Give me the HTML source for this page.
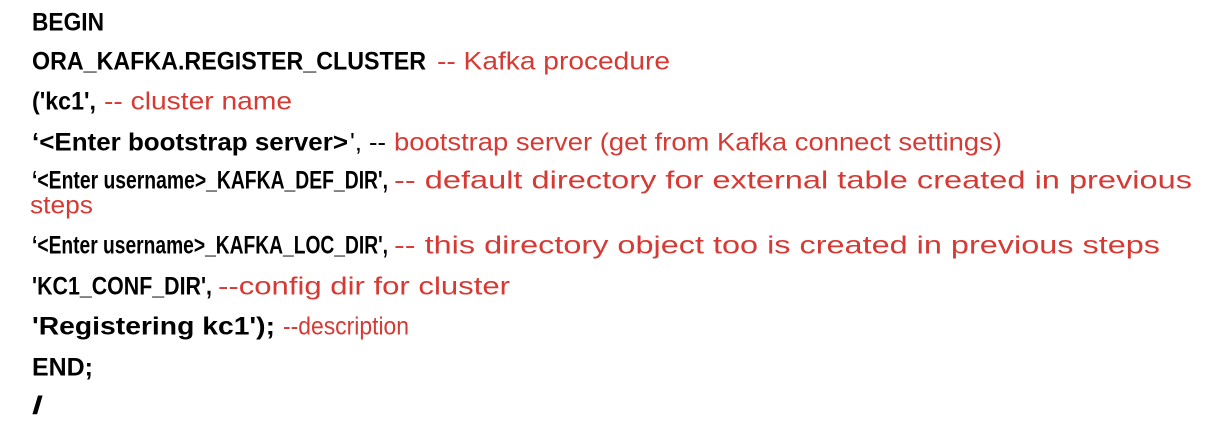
<!DOCTYPE html>
<html><head><meta charset="utf-8"><style>
html,body{margin:0;padding:0;background:#fff;width:1206px;height:444px;overflow:hidden;position:relative}
.s{position:absolute;white-space:pre;font-family:"Liberation Sans",sans-serif;font-size:23px;line-height:1;transform-origin:0 0}
.b{font-weight:bold;color:#000}
.k{color:#000}
.r{color:#d63a34}
</style></head><body>
<div id="c"></div>
<script>
var R=[
["BEGIN",32,31,72,1],
["ORA_KAFKA.REGISTER_CLUSTER",32,70,394,1],
["-- Kafka procedure",437,70,233,0],
["('kc1',",32,110,64,1],
["-- cluster name",104,110,188,0],
["‘<Enter bootstrap server>",32,151,316,1],
["', --",350,151,36,2],
["bootstrap server (get from Kafka connect settings)",394,151,608,0],
["‘<Enter username>_KAFKA_DEF_DIR',",32,189,356,1],
["-- default directory for external table created in previous",394,189,798,0],
["steps",30,214,63,0],
["‘<Enter username>_KAFKA_LOC_DIR',",32,254,356,1],
["-- this directory object too is created in previous steps",394,254,766,0],
["'KC1_CONF_DIR',",32,295,180,1],
["--config dir for cluster",218,295,292,0],
["'Registering kc1');",32,335,243,1],
["--description",283,335,126,0],
["END;",32,376,61,1],
["/",32,414,11,1]
];
var c=document.getElementById('c');
R.forEach(function(a){
 var s=document.createElement('span');
 s.className='s '+(a[4]==1?'b':(a[4]==2?'k':'r'));
 s.textContent=a[0];
 c.appendChild(s);
 var w=s.getBoundingClientRect().width;
 var asc=23*0.905;
 s.style.left=a[1]+'px';
 s.style.top=(a[2]-asc)+'px';
 s.style.transform='scaleX('+(a[3]/w)+') scaleY(1.08)';
});
</script>
</body></html>
